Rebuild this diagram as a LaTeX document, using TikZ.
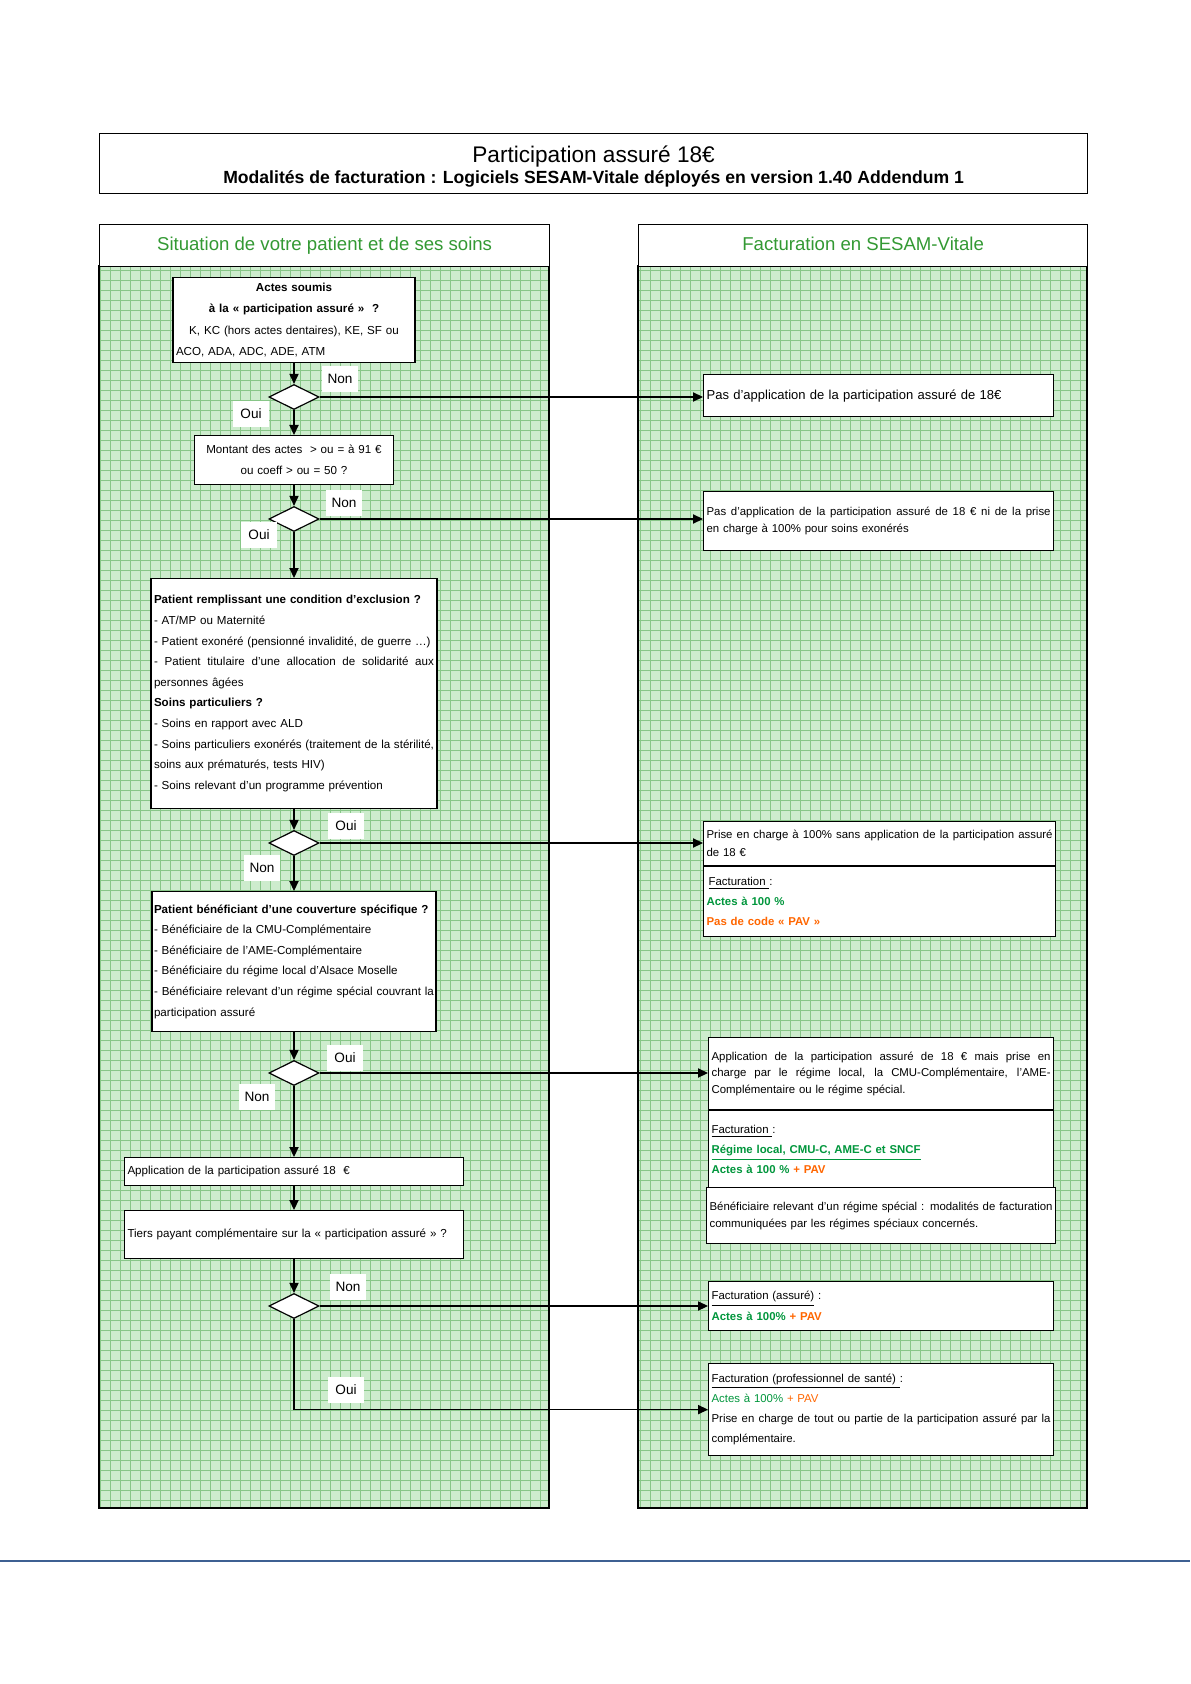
\documentclass[tikz,border=0pt]{standalone}
\usepackage{fontspec}
\setmainfont{Liberation Sans}
\usetikzlibrary{shapes.geometric,arrows.meta}

\definecolor{hdrgreen}{RGB}{51,153,51}
\definecolor{actgreen}{RGB}{0,150,60}
\definecolor{pavorange}{RGB}{255,102,0}
\definecolor{gridfill}{RGB}{205,236,205}
\definecolor{gridline}{RGB}{135,198,135}
\definecolor{rulerblue}{RGB}{62,96,146}

\newcommand{\jline}[1]{\makebox[\linewidth][s]{\spaceskip=\fontdimen2\font plus 1fil\relax #1}}

\begin{document}
\begin{tikzpicture}[x=1pt, y=-1pt,
	box/.style={draw, fill=white, line width=0.6pt, inner xsep=1.5pt, inner ysep=0pt},
	lfont/.style={font=\fontsize{5.8}{10.3}\selectfont},
	rfont/.style={font=\fontsize{5.7}{#1}\selectfont},
	dia/.style={draw, fill=white, diamond, line width=0.6pt, inner sep=0pt, minimum width=25pt, minimum height=12.5pt},
	lbl/.style={fill=white, inner sep=0pt, minimum width=18pt, minimum height=13pt, font=\fontsize{6.8}{8}\selectfont},
	hdr/.style={draw, fill=white, line width=0.6pt, anchor=north west, minimum width=225pt, minimum height=21pt, text height=7pt, text depth=2pt, text=hdrgreen, font=\fontsize{9.3}{11}\selectfont},
	flow/.style={line width=0.6pt, -{Triangle[length=5pt,width=4.6pt]}}
	]
	
	\useasboundingbox (0,0) rectangle (595,842);
	
	% title
	\node[draw, line width=0.6pt, anchor=north west, minimum width=494pt, minimum height=30pt, inner sep=0pt, align=center] (titlebox) at (49.5,66.5)
	{\fontsize{11.3}{13}\selectfont\rule{0pt}{11pt}Participation assuré 18€\\[-1.5pt]
		\fontsize{8.8}{10}\selectfont\bfseries Modalités de facturation : Logiciels SESAM-Vitale déployés en version 1.40 Addendum 1};
	
	% panels
	\fill [gridfill] (49.5,133) rectangle (274.5,754);
	\fill [gridfill] (319,133) rectangle (543.5,754);
	\draw [gridline, line width=0.35pt, step=5pt] (49.5,754) grid (274.5,133);
	\draw [gridline, line width=0.35pt, step=5pt] (319,754) grid (543.5,133);
	\draw [line width=0.6pt] (49.5,133) rectangle (274.5,754);
	\draw [line width=0.6pt] (319,133) rectangle (543.5,754);
	\node[hdr] (lhead) at (49.5,112) {Situation de votre patient et de ses soins};
	\node[hdr, minimum width=224.5pt] (rhead) at (319,112) {Facturation en SESAM-Vitale};
	
	% left column
	\node[box, font=\fontsize{5.8}{10.6}\selectfont, anchor=north, text width=118pt, minimum height=42.5pt, align=center] (b1) at (147,138.5)
	{\textbf{Actes soumis}\\ \textbf{à la « participation assuré »~~?}\\ K, KC (hors actes dentaires), KE, SF ou\\ \makebox[\linewidth][l]{ACO, ADA, ADC, ADE, ATM}};
	\node[dia] (d1) at (147,198.5) {};
	\node[box, font=\fontsize{5.8}{10.5}\selectfont, anchor=north, text width=96.5pt, minimum height=24.5pt, align=center] (b2) at (147,217.5)
	{Montant des actes~ > ou = à 91 €\\ ou coeff > ou = 50 ?};
	\node[dia] (d2) at (147,259.5) {};
	\node[box, lfont, anchor=north, text width=140pt, minimum height=115pt, align=left] (b3) at (147,289)
	{\textbf{Patient remplissant une condition d'exclusion ?}\\
		- AT/MP ou Maternité\\
		- Patient exonéré (pensionné invalidité, de guerre …)\\
		\jline{- Patient titulaire d'une allocation de solidarité aux}\\
		personnes âgées\\
		\textbf{Soins particuliers ?}\\
		- Soins en rapport avec ALD\\
		\jline{- Soins particuliers exonérés (traitement de la stérilité,}\\
		soins aux prématurés, tests HIV)\\
		- Soins relevant d'un programme prévention};
	\node[dia] (d3) at (147,421.5) {};
	\node[box, lfont, inner xsep=1pt, anchor=north, text width=140pt, minimum height=70pt, align=left] (b4) at (147,445.5)
	{\textbf{Patient bénéficiant d'une couverture spécifique ?}\\
		- Bénéficiaire de la CMU-Complémentaire\\
		- Bénéficiaire de l'AME-Complémentaire\\
		- Bénéficiaire du régime local d'Alsace Moselle\\
		\jline{- Bénéficiaire relevant d'un régime spécial couvrant la}\\
		participation assuré};
	\node[dia] (d4) at (147,536.5) {};
	\node[box, lfont, anchor=north, text width=166.5pt, minimum height=14pt, align=left] (b5) at (147,578.5)
	{Application de la participation assuré 18~~€};
	\node[box, lfont, anchor=north, text width=166.5pt, minimum height=24pt, align=left] (b6) at (147,605)
	{Tiers payant complémentaire sur la « participation assuré » ?};
	\node[dia] (d5) at (147,653) {};
	
	% right column
	\node[box, font=\fontsize{6.5}{8}\selectfont, anchor=north west, text width=172pt, minimum height=21pt, align=left] (r1) at (351.5,187)
	{Pas d'application de la participation assuré de 18€};
	\node[box, rfont=8.5, anchor=north west, text width=172pt, minimum height=29.5pt, align=left] (r2) at (351.5,245.5)
	{\jline{Pas d'application de la participation assuré de 18 € ni de la prise}\\ en charge à 100\% pour soins exonérés};
	\node[box, rfont=9, anchor=north west, text width=173pt, minimum height=22pt, align=left] (r3a) at (351.5,410.5)
	{\jline{Prise en charge à 100\% sans application de la participation assuré}\\ de 18 €};
	\node[box, rfont=10, anchor=north west, text width=173pt, minimum height=35pt, align=left] (r3b) at (r3a.south west)
	{\hspace{1pt}\underline{Facturation }:\\ \textbf{\color{actgreen}Actes à 100 \%}\\ \textbf{\color{pavorange}Pas de code « PAV »}};
	\node[box, rfont=8.3, anchor=north west, text width=169.5pt, minimum height=36pt, align=left] (r4a) at (354,518.5)
	{\jline{Application de la participation assuré de 18 € mais prise en}\\
		\jline{charge par le régime local, la CMU-Complémentaire, l'AME-}\\
		Complémentaire ou le régime spécial.};
	\node[box, rfont=10, anchor=north west, text width=169.5pt, minimum height=39pt, align=left] (r4b) at (r4a.south west)
	{\underline{Facturation }:\\
		\textbf{\color{actgreen}\underline{Régime local, CMU-C, AME-C et SNCF}}\\
		\textbf{\color{actgreen}Actes à 100 \% {\color{pavorange}+ PAV}}};
	\node[box, rfont=8.5, anchor=north west, text width=171.5pt, minimum height=28pt, align=left] (r4c) at (353,593.5)
	{\jline{Bénéficiaire relevant d'un régime spécial : modalités de facturation}\\
		communiquées par les régimes spéciaux concernés.};
	\node[box, rfont=10.5, anchor=north west, text width=169.5pt, minimum height=24.5pt, align=left] (r5) at (354,640.5)
	{\underline{Facturation (assuré)} :\\ \textbf{\color{actgreen}Actes à 100\% {\color{pavorange}+ PAV}}};
	\node[box, rfont=10, anchor=north west, text width=169.5pt, minimum height=46pt, align=left] (r6) at (354,681.5)
	{\underline{Facturation (professionnel de santé) }:\\
		{\color{actgreen}Actes à 100\% {\color{pavorange}+ PAV}}\\
		\jline{Prise en charge de tout ou partie de la participation assuré par la}\\
		complémentaire.};
	
	% connectors
	\draw[flow] (b1) -- (d1);
	\draw[flow] (d1) -- (b2);
	\draw[flow] (b2) -- (d2);
	\draw[flow] (d2) -- (b3);
	\draw[flow] (b3) -- (d3);
	\draw[flow] (d3) -- (b4);
	\draw[flow] (b4) -- (d4);
	\draw[flow] (d4) -- (b5);
	\draw[flow] (b5) -- (b6);
	\draw[flow] (b6) -- (d5);
	
	\draw[flow] (d1.east) -- (d1.east -| r1.west);
	\draw[flow] (d2.east) -- (d2.east -| r2.west);
	\draw[flow] (d3.east) -- (d3.east -| r3a.west);
	\draw[flow] (d4.east) -- (d4.east -| r4a.west);
	\draw[flow] (d5.east) -- (d5.east -| r5.west);
	\draw[flow] (d5.south) |- (r6.west);
	
	% labels
	\node[lbl] (non1) at (170,189.5) {Non};
	\node[lbl] (oui1) at (125.5,207) {Oui};
	\node[lbl] (non2) at (172,251.5) {Non};
	\node[lbl] (oui2) at (129.5,267.5) {Oui};
	\node[lbl] (oui3) at (173,413) {Oui};
	\node[lbl] (non3) at (131,434) {Non};
	\node[lbl] (oui4) at (172.5,529) {Oui};
	\node[lbl] (non4) at (128.5,548.5) {Non};
	\node[lbl] (non5) at (174,643.5) {Non};
	\node[lbl] (oui5) at (173,695) {Oui};
	
	% page rule
	\draw [rulerblue, line width=1pt] (0,780.5) -- (595,780.5);
	
\end{tikzpicture}
\end{document}
